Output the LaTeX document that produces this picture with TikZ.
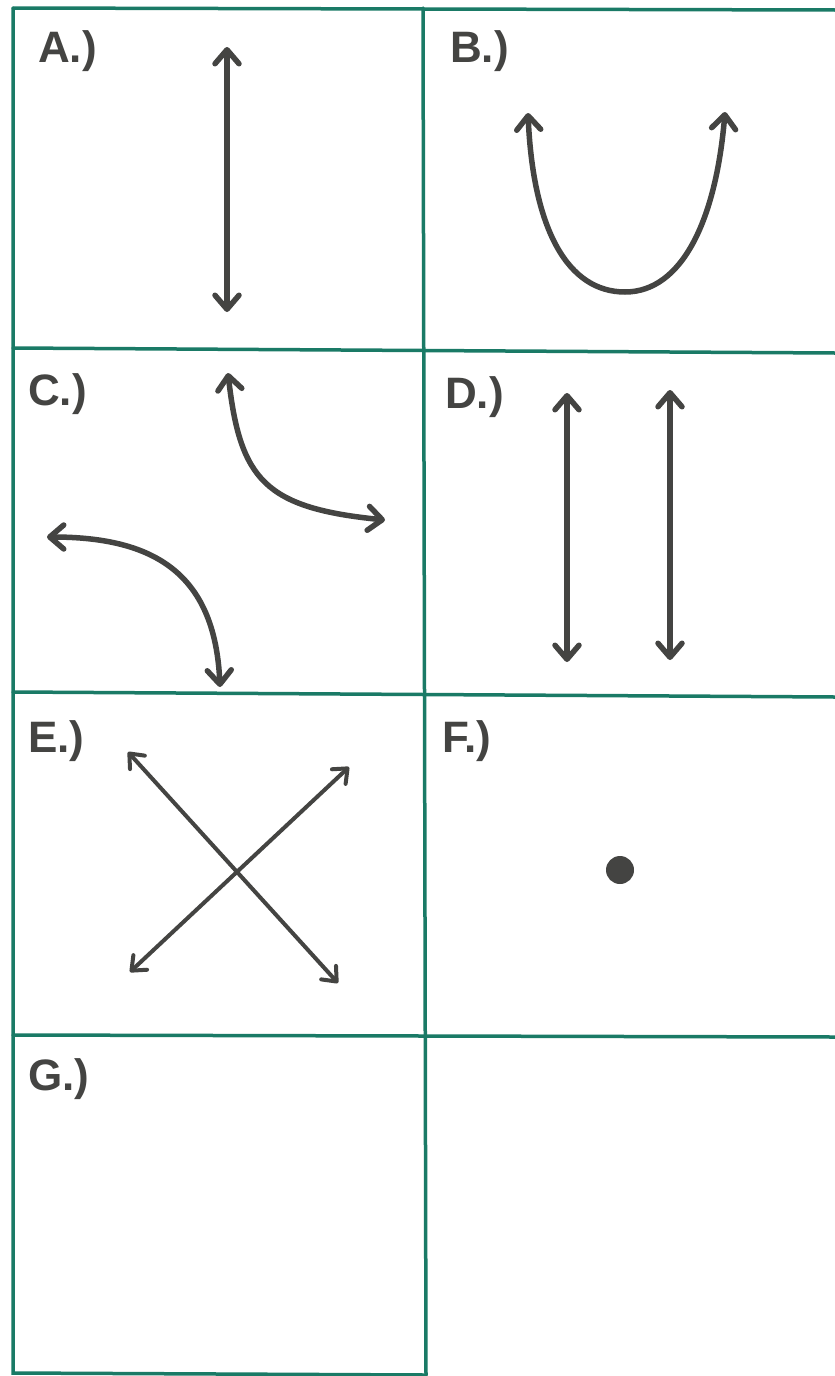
\documentclass[tikz,border=0pt]{standalone}
\usepackage{fontspec}
\setmainfont{Liberation Sans}
\usepackage{tikz}
\usetikzlibrary{arrows.meta}

\definecolor{gridteal}{RGB}{26,122,102}
\definecolor{pencil}{RGB}{68,68,66}

\begin{document}
\begin{tikzpicture}[
    x=1pt, y=-1pt,
    grid/.style={draw=gridteal, line width=3.5pt, line cap=round},
    tag/.style={
        anchor=base west,
        inner sep=0pt,
        text=pencil,
        font=\fontsize{44}{44}\selectfont\bfseries
    },
    arrow/.style={draw=pencil, line width=5.5pt, line cap=round, <->,
        >={Straight Barb[length=14pt,width=24pt,round]}},
    thin arrow/.style={arrow, line width=4pt,
        >={Straight Barb[length=12pt,width=20pt,round]}},
    dot/.style={circle, fill=pencil, minimum size=28pt, inner sep=0pt}
]

\useasboundingbox (0,0) rectangle (835,1376);
\fill[white] (0,0) rectangle (835,1376);

% grid of panels
\draw[grid] (13,8) -- (835,10);
\draw[grid] (13,348) -- (835,353);
\draw[grid] (13,692) -- (835,697);
\draw[grid] (13,1035) -- (835,1037);
\draw[grid] (13,8) -- (13,1373) -- (426,1375);
\draw[grid] (423,8) -- (426,1375);

% panel tags
\node[tag] (a) at (38,62) {A.)};
\node[tag] (b) at (450,62) {B.)};
\node[tag] (c) at (28,405) {C.)};
\node[tag] (d) at (445,408) {D.)};
\node[tag] (e) at (28,752) {E.)};
\node[tag] (f) at (442,752) {F.)};
\node[tag] (g) at (28,1090) {G.)};

% end points
\coordinate (a top) at (227,47);
\coordinate (a bot) at (227,312);
\coordinate (b left) at (528,113);
\coordinate (b low) at (625,292);
\coordinate (b right) at (725,112);
\coordinate (c1 top) at (228,373);
\coordinate (c1 right) at (385,520);
\coordinate (c2 left) at (47,537);
\coordinate (c2 bot) at (220,687);
\coordinate (d1 top) at (567,393);
\coordinate (d1 bot) at (567,662);
\coordinate (d2 top) at (670,390);
\coordinate (d2 bot) at (670,660);
\coordinate (e1 a) at (128,752);
\coordinate (e1 b) at (338,983);
\coordinate (e2 a) at (130,972);
\coordinate (e2 b) at (349,767);

\draw[arrow] (a top) -- (a bot);
\draw[arrow] (b left) .. controls (533,230) and (568,292) .. (b low)
    .. controls (682,292) and (716,220) .. (b right);
\draw[arrow] (c1 top) .. controls (240,480) and (265,508) .. (c1 right);
\draw[arrow] (c2 left) .. controls (150,537) and (215,570) .. (c2 bot);
\draw[arrow] (d1 top) -- (d1 bot);
\draw[arrow] (d2 top) -- (d2 bot);
\draw[thin arrow] (e1 a) -- (e1 b);
\draw[thin arrow] (e2 a) -- (e2 b);
\node[dot] (f dot) at (620,870) {};

\end{tikzpicture}
\end{document}
